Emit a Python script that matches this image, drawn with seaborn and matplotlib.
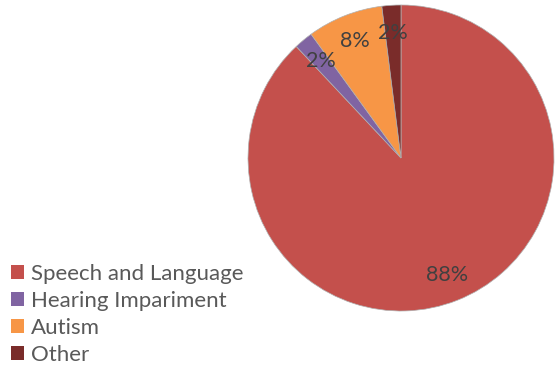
import matplotlib
matplotlib.use("Agg")
import matplotlib.pyplot as plt
import seaborn as sns

categories = ["Speech and Language", "Hearing Impariment", "Autism", "Other"]
values = [88, 2, 8, 2]
colors = ["#C4504C", "#8064A2", "#F79646", "#7A2C2A"]

sns.set_theme(style="white")
plt.rcParams['font.family'] = ['Lato', 'DejaVu Sans']

W, H = 560, 367
fig = plt.figure(figsize=(W / 100, H / 100), dpi=100)
cx, cy, r = 401, 158, 153
ax = fig.add_axes([(cx - r) / W, (H - cy - r) / H, 2 * r / W, 2 * r / H])

pal = sns.color_palette(colors)
wedges, texts, autotexts = ax.pie(
    values, colors=pal, startangle=90, counterclock=False,
    autopct=lambda p: f"{p:.0f}%", pctdistance=0.82,
    wedgeprops=dict(linewidth=0.5, edgecolor="#b0b0b0"),
    textprops=dict(color="#404040", fontsize=15.5),
)
ax.set_xlim(-1, 1)
ax.set_ylim(-1, 1)
ax.set_aspect("equal")

leg = fig.legend(
    wedges, categories, loc="upper left",
    bbox_to_anchor=(11 / W, 1 - 264 / H),
    frameon=False, fontsize=16, handlelength=0.6, handleheight=0.6,
    handletextpad=0.3, labelspacing=0.31, labelcolor="#595959",
    borderaxespad=0, borderpad=0,
)
for h in leg.legend_handles:
    h.set_edgecolor("none")

fig.savefig("out.png", dpi=100)
